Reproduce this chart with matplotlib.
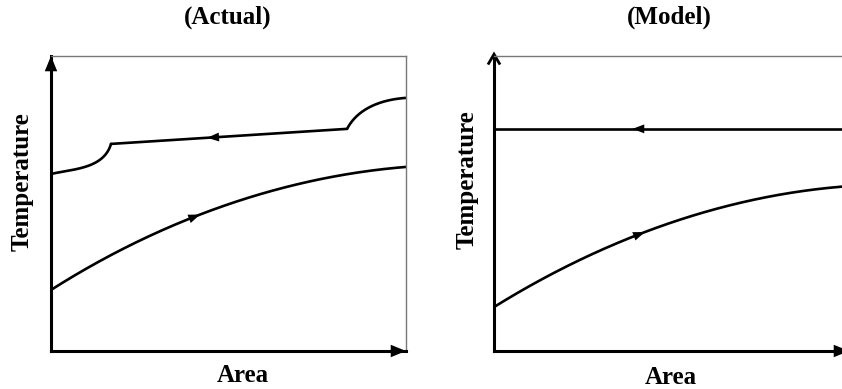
import numpy as np
import matplotlib.pyplot as plt

# area fraction (0..1) and temperature fraction (0..1) read along each stream
# hot stream (actual) in three pieces: desuperheat bend, condensing run, subcool bend
hot_actual_left_x = [0.0, 0.062, 0.110, 0.146, 0.161, 0.169]
hot_actual_left_y = [0.600, 0.614, 0.631, 0.654, 0.681, 0.702]
hot_actual_mid_x = [0.169, 0.834]
hot_actual_mid_y = [0.702, 0.753]
hot_actual_right_x = [0.834, 0.851, 0.876, 0.907, 0.946, 1.0]
hot_actual_right_y = [0.753, 0.783, 0.810, 0.834, 0.847, 0.858]

cold_actual_x = [0.0, 0.124, 0.265, 0.414, 0.546, 0.735, 0.876, 1.0]
cold_actual_y = [0.207, 0.292, 0.383, 0.461, 0.519, 0.573, 0.607, 0.624]

hot_model_x = [0.0, 1.0]
hot_model_y = [0.753, 0.753]
cold_model_x = [0.0, 0.124, 0.265, 0.414, 0.546, 0.735, 0.876, 1.0]
cold_model_y = [0.149, 0.234, 0.319, 0.403, 0.454, 0.512, 0.542, 0.559]

titles = ['(Actual)', '(Model)']

plt.rcParams['font.family'] = ['Liberation Serif', 'DejaVu Serif']
font = dict(fontsize=18, fontweight='bold')


def stroke(xs, ys, n=300):
    # smooth parametric cubic through the read points, pinned at both ends
    xs = np.asarray(xs, float)
    ys = np.asarray(ys, float)
    if len(xs) < 3:
        return xs, ys
    # scale to pixel-like units so chord length is fair in both directions
    d = np.hypot(np.diff(xs) * 355, np.diff(ys) * 295)
    t = np.concatenate([[0], np.cumsum(d)])
    t /= t[-1]
    w = np.ones_like(t)
    w[0] = w[-1] = 50
    deg = min(3, len(xs) - 1)
    px = np.polyfit(t, xs, deg, w=w)
    py = np.polyfit(t, ys, deg, w=w)
    tt = np.linspace(0, 1, n)
    return np.polyval(px, tt), np.polyval(py, tt)


def flow_head(ax, xs, ys, x0, d):
    xx, yy = stroke(xs, ys)
    y0 = np.interp(x0, xx, yy)
    xb = x0 - d * 0.03
    yb = np.interp(xb, xx, yy)
    ax.annotate('', xy=(x0, y0), xytext=(xb, yb),
                arrowprops=dict(arrowstyle='-|>,head_length=0.85,head_width=0.32',
                                color='k', lw=0, shrinkA=0, shrinkB=0))


def axis_head(ax, tip, tail):
    ax.annotate('', xy=tip, xytext=tail, xycoords='axes fraction',
                arrowprops=dict(arrowstyle='-|>,head_length=1.1,head_width=0.45',
                                color='k', lw=0, shrinkA=0, shrinkB=0))


fig = plt.figure(figsize=(8.42, 3.89), dpi=100)
ax1 = fig.add_axes([51 / 842, 38 / 389, 355 / 842, 295 / 389])
ax2 = fig.add_axes([494 / 842, 38 / 389, 355 / 842, 295 / 389])

panels = [
    (ax1, [(hot_actual_left_x, hot_actual_left_y), (hot_actual_mid_x, hot_actual_mid_y),
           (hot_actual_right_x, hot_actual_right_y), (cold_actual_x, cold_actual_y)],
     [(hot_actual_mid_x, hot_actual_mid_y, 0.44, -1), (cold_actual_x, cold_actual_y, 0.42, 1)]),
    (ax2, [(hot_model_x, hot_model_y), (cold_model_x, cold_model_y)],
     [(hot_model_x, hot_model_y, 0.39, -1), (cold_model_x, cold_model_y, 0.425, 1)]),
]

for ax, curves, heads in panels:
    for xs, ys in curves:
        xx, yy = stroke(xs, ys)
        ax.plot(xx, yy, color='k', lw=1.9, solid_capstyle='round', solid_joinstyle='round')
    for xs, ys, x0, d in heads:
        flow_head(ax, xs, ys, x0, d)
    ax.set_xlim(0, 1)
    ax.set_ylim(0, 1)
    ax.set_xticks([])
    ax.set_yticks([])
    for s in ['left', 'bottom']:
        ax.spines[s].set_linewidth(2.2)
        ax.spines[s].set_color('k')
    for s in ['top', 'right']:
        ax.spines[s].set_linewidth(1.0)
        ax.spines[s].set_color('#777777')

# axis arrow heads
axis_head(ax1, (0, 1.0), (0, 0.9))
axis_head(ax1, (1.0, 0), (0.9, 0))
ax2.plot([-0.015, 0, 0.015], [0.975, 1.006, 0.975], color='k', lw=2.0,
         transform=ax2.transAxes, clip_on=False, solid_joinstyle='miter')
axis_head(ax2, (1.0, 0), (0.9, 0))

fig.text(228 / 842, 1 - 17 / 389, titles[0], ha='center', va='center', **font)
fig.text(669 / 842, 1 - 17 / 389, titles[1], ha='center', va='center', **font)
fig.text(243 / 842, 1 - 376 / 389, 'Area', ha='center', va='center', **font)
fig.text(671 / 842, 1 - 377 / 389, 'Area', ha='center', va='center', **font)
fig.text(22 / 842, 1 - 182 / 389, 'Temperature', ha='center', va='center', rotation=90, **font)
fig.text(467 / 842, 1 - 180 / 389, 'Temperature', ha='center', va='center', rotation=90, **font)

fig.savefig('out.png', dpi=100)
